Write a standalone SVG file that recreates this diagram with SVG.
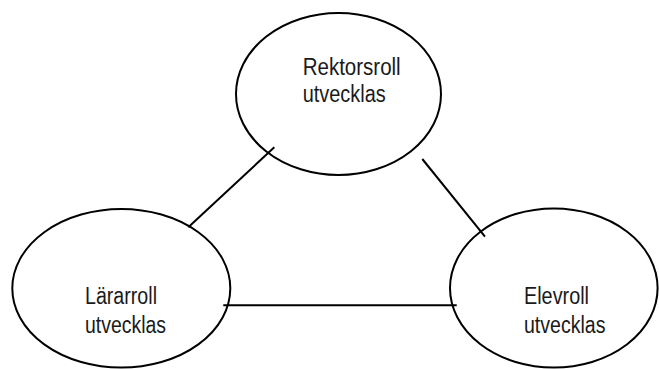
<svg xmlns="http://www.w3.org/2000/svg" width="659" height="369" viewBox="0 0 659 369">
  <style>
    .node { fill: none; stroke: #000; stroke-width: 2; }
    .link { stroke: #000; stroke-width: 2; fill: none; }
    .label { font-family: "Liberation Sans", Arial, sans-serif; font-size: 23px; fill: #1a1a1a; }
  </style>
  <rect width="659" height="369" fill="#fff"/>

  <g id="connectors">
    <line class="link" x1="274.3" y1="147.3" x2="188.3" y2="227.3"/>
    <line class="link" x1="422.3" y1="159" x2="485" y2="236.7"/>
    <line class="link" x1="223.3" y1="305.3" x2="456.7" y2="305.3"/>
  </g>

  <g id="rektorsroll">
    <ellipse class="node" cx="338.5" cy="94" rx="102.5" ry="81"/>
    <text class="label" x="302.7" y="74.5" textLength="98" lengthAdjust="spacingAndGlyphs">Rektorsroll</text>
    <text class="label" x="302.7" y="101.5" textLength="83" lengthAdjust="spacingAndGlyphs">utvecklas</text>
  </g>

  <g id="lararroll">
    <ellipse class="node" cx="121.3" cy="288.3" rx="109" ry="79.3"/>
    <text class="label" x="85" y="304" textLength="72" lengthAdjust="spacingAndGlyphs">Lärarroll</text>
    <text class="label" x="85" y="333" textLength="81" lengthAdjust="spacingAndGlyphs">utvecklas</text>
  </g>

  <g id="elevroll">
    <ellipse class="node" cx="553.8" cy="288" rx="103.8" ry="79.5"/>
    <text class="label" x="524" y="304" textLength="65" lengthAdjust="spacingAndGlyphs">Elevroll</text>
    <text class="label" x="524" y="333" textLength="81.5" lengthAdjust="spacingAndGlyphs">utvecklas</text>
  </g>
</svg>
